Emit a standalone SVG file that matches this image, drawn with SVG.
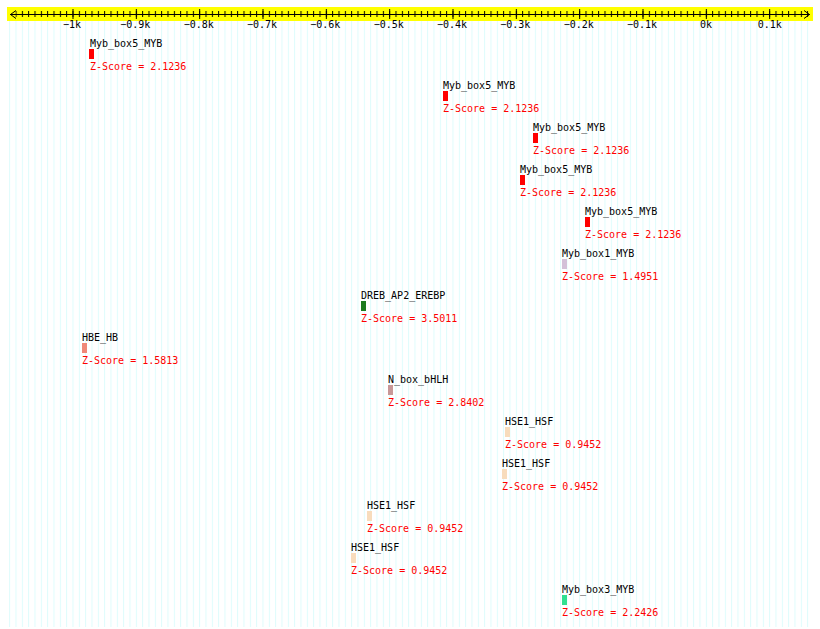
<svg xmlns="http://www.w3.org/2000/svg" width="820" height="629" viewBox="0 0 820 629">
<style>
text{font-family:"DejaVu Sans Mono","Liberation Mono",monospace;font-size:10px}
.lbl{fill:#000}
.z{fill:#ff0000}
.ax{fill:#000;text-anchor:middle}
</style>
<defs>
<pattern id="grid" patternUnits="userSpaceOnUse" x="72.5" y="0" width="6.33333" height="10">
<rect x="0" y="0" width="1" height="10" fill="#ddfcfc"/>
</pattern>
<pattern id="minor" patternUnits="userSpaceOnUse" x="72.5" y="11" width="6.33333" height="6">
<rect x="0" y="0" width="1" height="6" fill="#000"/>
</pattern>
<pattern id="major" patternUnits="userSpaceOnUse" x="72.5" y="9" width="63.3333" height="10">
<rect x="0" y="0" width="1" height="10" fill="#000"/>
</pattern>
</defs>
<rect width="820" height="629" fill="#fff"/>
<rect id="gridlines" x="9" y="21" width="803" height="606" fill="url(#grid)"/>
<g id="axis">
<rect x="7" y="7" width="806" height="14" fill="#ffff00"/>
<line x1="10" y1="14.5" x2="810" y2="14.5" stroke="#000" stroke-width="1"/>
<rect x="15.5" y="11" width="793" height="6" fill="url(#minor)"/>
<rect x="15.5" y="9" width="793" height="10" fill="url(#major)"/>
<polyline points="16,10.5 10.5,14.5 16,18.5" fill="none" stroke="#000" stroke-width="1"/>
<polyline points="804,10.5 809.5,14.5 804,18.5" fill="none" stroke="#000" stroke-width="1"/>
<text class="ax" x="72" y="28">−1k</text>
<text class="ax" x="135.3" y="28">−0.9k</text>
<text class="ax" x="198.7" y="28">−0.8k</text>
<text class="ax" x="262" y="28">−0.7k</text>
<text class="ax" x="325.3" y="28">−0.6k</text>
<text class="ax" x="388.7" y="28">−0.5k</text>
<text class="ax" x="452" y="28">−0.4k</text>
<text class="ax" x="515.3" y="28">−0.3k</text>
<text class="ax" x="578.7" y="28">−0.2k</text>
<text class="ax" x="642" y="28">−0.1k</text>
<text class="ax" x="706" y="28">0k</text>
<text class="ax" x="769.7" y="28">0.1k</text>
</g>
<g id="connectors"></g>
<g id="f1"><text class="lbl" x="90" y="47">Myb_box5_MYB</text><rect x="89" y="49" width="5" height="10" fill="#ff0000"/><text class="z" x="90" y="69.5">Z-Score = 2.1236</text></g>
<g id="f2"><text class="lbl" x="443" y="89">Myb_box5_MYB</text><rect x="443" y="91" width="5" height="10" fill="#ff0000"/><text class="z" x="443" y="111.5">Z-Score = 2.1236</text></g>
<g id="f3"><text class="lbl" x="533" y="131">Myb_box5_MYB</text><rect x="533" y="133" width="5" height="10" fill="#ff0000"/><text class="z" x="533" y="153.5">Z-Score = 2.1236</text></g>
<g id="f4"><text class="lbl" x="520" y="173">Myb_box5_MYB</text><rect x="520" y="175" width="5" height="10" fill="#ff0000"/><text class="z" x="520" y="195.5">Z-Score = 2.1236</text></g>
<g id="f5"><text class="lbl" x="585" y="215">Myb_box5_MYB</text><rect x="585" y="217" width="5" height="10" fill="#ff0000"/><text class="z" x="585" y="237.5">Z-Score = 2.1236</text></g>
<g id="f6"><text class="lbl" x="562" y="257">Myb_box1_MYB</text><rect x="562" y="259" width="5" height="10" fill="#d4c0d8"/><text class="z" x="562" y="279.5">Z-Score = 1.4951</text></g>
<g id="f7"><text class="lbl" x="361" y="299">DREB_AP2_EREBP</text><rect x="361" y="301" width="5" height="10" fill="#1e7a1e"/><text class="z" x="361" y="321.5">Z-Score = 3.5011</text></g>
<g id="f8"><text class="lbl" x="82" y="341">HBE_HB</text><rect x="82" y="343" width="5" height="10" fill="#f08878"/><text class="z" x="82" y="363.5">Z-Score = 1.5813</text></g>
<g id="f9"><text class="lbl" x="388" y="383">N_box_bHLH</text><rect x="388" y="385" width="5" height="10" fill="#c89898"/><text class="z" x="388" y="405.5">Z-Score = 2.8402</text></g>
<g id="f10"><text class="lbl" x="505" y="425">HSE1_HSF</text><rect x="505" y="427" width="5" height="10" fill="#f8dcbc"/><text class="z" x="505" y="447.5">Z-Score = 0.9452</text></g>
<g id="f11"><text class="lbl" x="502" y="467">HSE1_HSF</text><rect x="502" y="469" width="5" height="10" fill="#f8dcbc"/><text class="z" x="502" y="489.5">Z-Score = 0.9452</text></g>
<g id="f12"><text class="lbl" x="367" y="509">HSE1_HSF</text><rect x="367" y="511" width="5" height="10" fill="#f8dcbc"/><text class="z" x="367" y="531.5">Z-Score = 0.9452</text></g>
<g id="f13"><text class="lbl" x="351" y="551">HSE1_HSF</text><rect x="351" y="553" width="5" height="10" fill="#f8dcbc"/><text class="z" x="351" y="573.5">Z-Score = 0.9452</text></g>
<g id="f14"><text class="lbl" x="562" y="593">Myb_box3_MYB</text><rect x="562" y="595" width="5" height="10" fill="#30e090"/><text class="z" x="562" y="615.5">Z-Score = 2.2426</text></g>
</svg>
